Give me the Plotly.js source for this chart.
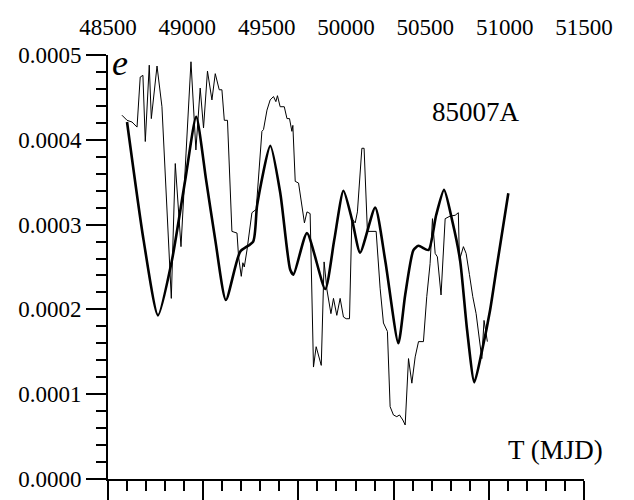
<!DOCTYPE html>
<html>
<head>
<meta charset="utf-8">
<script src="https://cdn.plot.ly/plotly-3.0.1.min.js"></script>
<style>html,body{margin:0;padding:0;background:#fff;}#chart{width:634px;height:500px;}</style>
</head>
<body>
<div id="chart"></div>
<script>
// Observed eccentricity (thin line)
const obsT = [48588,48620,48651,48683,48703,48720,48735,48760,48773,48809,48840,48882,48899,48924,48960,49023,49054,49081,49102,49127,49155,49176,49201,49218,49233,49253,49281,49313,49323,49340,49350,49359,49376,49407,49434,49470,49480,49502,49522,49543,49558,49568,49585,49611,49628,49644,49659,49665,49680,49701,49722,49738,49754,49774,49795,49812,49844,49862,49880,49905,49921,49942,49963,49984,50001,50022,50037,50058,50072,50100,50114,50135,50190,50215,50236,50261,50278,50299,50320,50337,50358,50373,50394,50415,50436,50457,50488,50509,50530,50545,50562,50576,50599,50625,50656,50688,50708,50715,50740,50757,50778,50799,50820,50841,50856,50870,50883,50891];
const obsE = [0.000429,0.000423,0.000421,0.000415,0.000474,0.000476,0.000398,0.000488,0.000425,0.000487,0.000439,0.000286,0.000213,0.000372,0.000274,0.000492,0.000388,0.000461,0.000414,0.000481,0.000447,0.000478,0.000459,0.000459,0.000423,0.000423,0.000292,0.000290,0.000262,0.000239,0.000255,0.000250,0.000270,0.000314,0.000318,0.000410,0.000412,0.000435,0.000447,0.000451,0.000445,0.000452,0.000439,0.000439,0.000425,0.000425,0.000410,0.000417,0.000351,0.000349,0.000325,0.000302,0.000315,0.000313,0.000132,0.000156,0.000134,0.000256,0.000223,0.000195,0.000213,0.000193,0.000213,0.000191,0.000189,0.000189,0.000307,0.000302,0.000315,0.000390,0.000390,0.000292,0.000292,0.000225,0.000184,0.000174,0.0000853,0.0000755,0.0000735,0.0000755,0.0000696,0.0000637,0.000142,0.000113,0.000144,0.000162,0.000162,0.000215,0.000254,0.000307,0.000266,0.000262,0.000217,0.000307,0.000310,0.000311,0.000314,0.000258,0.000274,0.000266,0.000241,0.000215,0.000195,0.000166,0.000142,0.000187,0.000168,0.000162];

// Model eccentricity (thick line)
const modT = [48620,48724,48815,48903,48987,49056,49118,49176,49243,49333,49415,49440,49523,49586,49648,49669,49754,49869,49926,49984,50039,50089,50184,50247,50330,50373,50425,50457,50520,50568,50618,50669,50719,50763,50809,50858,50908,50950,51023];
const modE = [0.000421,0.000282,0.000193,0.000258,0.000353,0.000427,0.000353,0.000282,0.000211,0.000268,0.000280,0.000323,0.000393,0.000337,0.000247,0.000241,0.000290,0.000224,0.000282,0.000340,0.000305,0.000267,0.000320,0.000258,0.000160,0.000217,0.000270,0.000275,0.000270,0.000311,0.000341,0.000305,0.000258,0.000176,0.000114,0.000152,0.000199,0.000250,0.000337];

// Axis labels
const topTickVals = [48500,49000,49500,50000,50500,51000,51500];
const topTickText = ['48500','49000','49500','50000','50500','51000','51500'];
const yTickVals = [0,0.0001,0.0002,0.0003,0.0004,0.0005];
const yTickText = ['0.0000','0.0001','0.0002','0.0003','0.0004','0.0005'];
const xRange = [48500, 51500];
const bottomMajorCount = 5; // intervals of the bottom tick scale

const bottomMajor = [];
for (let i = 0; i <= bottomMajorCount; i++) bottomMajor.push(xRange[0] + i*(xRange[1]-xRange[0])/bottomMajorCount);
const bottomMinorStep = (xRange[1]-xRange[0])/bottomMajorCount/5;

const FONT = '"Liberation Serif", "Times New Roman", serif';

const traces = [
  {x: obsT, y: obsE, xaxis: 'x2', yaxis: 'y', type: 'scatter', mode: 'lines', line: {color: '#000', width: 1}, hoverinfo: 'skip'},
  {x: modT, y: modE, xaxis: 'x', yaxis: 'y', type: 'scatter', mode: 'lines', line: {color: '#000', width: 2.6, shape: 'spline', smoothing: 0.6}, hoverinfo: 'skip'}
];

const layout = {
  width: 634, height: 500,
  margin: {l: 108, r: 50, t: 55, b: 21},
  paper_bgcolor: '#fff', plot_bgcolor: '#fff',
  showlegend: false,
  font: {family: FONT, color: '#000', size: 23},
  xaxis: {
    range: xRange, side: 'bottom', anchor: 'y',
    showline: true, linecolor: '#000', linewidth: 2,
    showgrid: false, zeroline: false,
    tickmode: 'array', tickvals: bottomMajor,
    ticks: 'outside', ticklen: 19, tickwidth: 2, tickcolor: '#000',
    showticklabels: false,
    minor: {tick0: xRange[0], dtick: bottomMinorStep, ticks: 'outside', ticklen: 10, tickwidth: 2, tickcolor: '#000', showgrid: false}
  },
  xaxis2: {
    range: xRange, overlaying: 'x', side: 'top', anchor: 'y',
    showline: false, showgrid: false, zeroline: false,
    tickmode: 'array', tickvals: topTickVals, ticktext: topTickText,
    ticks: '', tickfont: {family: FONT, size: 23, color: '#000'},
    ticklabelstandoff: 14
  },
  yaxis: {
    range: [0, 0.0005],
    showline: true, linecolor: '#000', linewidth: 2,
    showgrid: false, zeroline: false,
    tickmode: 'array', tickvals: yTickVals, ticktext: yTickText,
    ticks: 'outside', ticklen: 20, tickwidth: 2, tickcolor: '#000',
    tickfont: {family: FONT, size: 23, color: '#000'},
    minor: {dtick: 0.00002, ticks: 'outside', ticklen: 10, tickwidth: 2, tickcolor: '#000', showgrid: false}
  },
  annotations: [
    {text: '<i>e</i>', xref: 'paper', yref: 'paper', x: 0.004, y: 0.982, xanchor: 'left', yanchor: 'middle', showarrow: false, font: {family: FONT, size: 36, color: '#000'}},
    {text: '85007A', xref: 'paper', yref: 'paper', x: 0.773, y: 0.866, xanchor: 'center', yanchor: 'middle', showarrow: false, font: {family: FONT, size: 27, color: '#000'}},
    {text: 'T (MJD)', xref: 'paper', yref: 'paper', x: 0.941, y: 0.068, xanchor: 'center', yanchor: 'middle', showarrow: false, font: {family: FONT, size: 27, color: '#000'}}
  ]
};

Plotly.newPlot('chart', traces, layout, {displayModeBar: false, staticPlot: true});
</script>
</body>
</html>
